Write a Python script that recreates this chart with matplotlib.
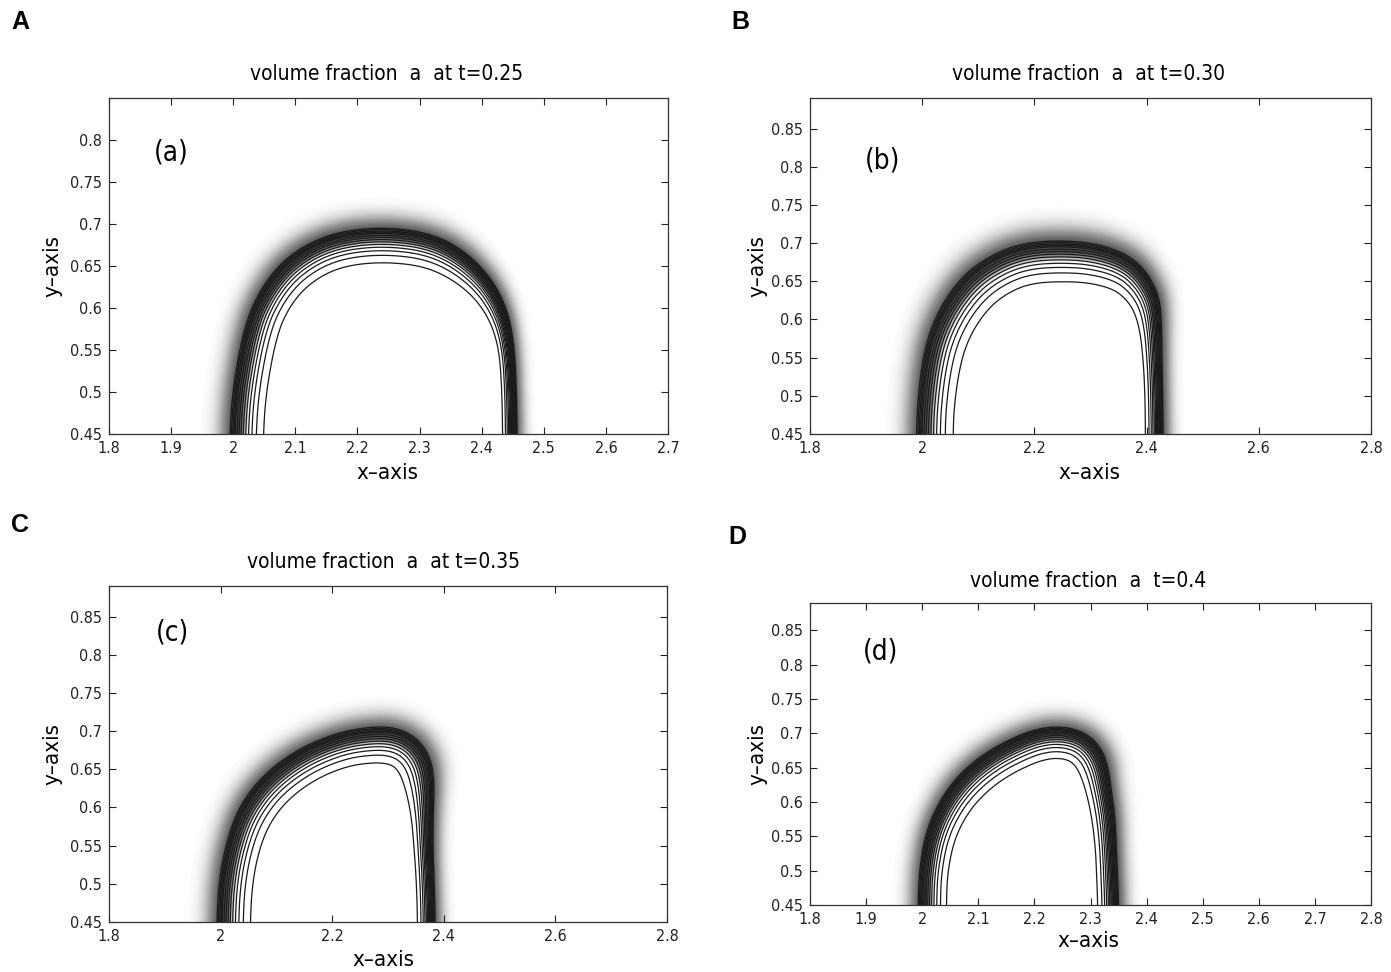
import numpy as np
import matplotlib
matplotlib.use("Agg")
import matplotlib.pyplot as plt
from matplotlib.path import Path
from matplotlib.colors import LinearSegmentedColormap

plt.rcParams['font.family'] = ['DejaVu Sans']
plt.rcParams['font.stretch'] = 'condensed'

W, H = 1391, 972

# ---------------- data ----------------
titles = ["volume fraction  a  at t=0.25", "volume fraction  a  at t=0.30",
          "volume fraction  a  at t=0.35", "volume fraction  a  t=0.4"]
panel_letters = ["A", "B", "C", "D"]
sub_labels = ["(a)", "(b)", "(c)", "(d)"]
sub_label_pos = [(1.90, 0.785), (1.93, 0.808), (1.913, 0.829), (1.925, 0.819)]

xlims = [(1.8, 2.7), (1.8, 2.8), (1.8, 2.8), (1.8, 2.8)]
ylims = [(0.45, 0.8499), (0.45, 0.89), (0.45, 0.89), (0.45, 0.89)]
xticks_list = [[1.8, 1.9, 2.0, 2.1, 2.2, 2.3, 2.4, 2.5, 2.6, 2.7],
               [1.8, 2.0, 2.2, 2.4, 2.6, 2.8],
               [1.8, 2.0, 2.2, 2.4, 2.6, 2.8],
               [1.8, 1.9, 2.0, 2.1, 2.2, 2.3, 2.4, 2.5, 2.6, 2.7, 2.8]]
yticks_list = [[0.45, 0.5, 0.55, 0.6, 0.65, 0.7, 0.75, 0.8],
               [0.45, 0.5, 0.55, 0.6, 0.65, 0.7, 0.75, 0.8, 0.85],
               [0.45, 0.5, 0.55, 0.6, 0.65, 0.7, 0.75, 0.8, 0.85],
               [0.45, 0.5, 0.55, 0.6, 0.65, 0.7, 0.75, 0.8, 0.85]]

# innermost contour of each panel (x, y) and band width (px)
a_x = [2.048, 2.054, 2.071, 2.091, 2.118, 2.156, 2.199, 2.252, 2.306, 2.349, 2.387, 2.413, 2.427, 2.432, 2.434]
a_y = [0.450, 0.506, 0.570, 0.602, 0.626, 0.644, 0.6525, 0.6544, 0.6496, 0.6358, 0.6138, 0.586, 0.554, 0.514, 0.450]
a_w = [30, 30, 30, 30, 31, 31, 31, 31, 30, 27, 22, 17, 13, 12, 12]

b_x = [2.055, 2.057, 2.065, 2.077, 2.098, 2.127, 2.163, 2.199, 2.246, 2.294, 2.336, 2.359, 2.377, 2.388, 2.394, 2.397, 2.398]
b_y = [0.450, 0.486, 0.530, 0.5645, 0.5952, 0.6214, 0.6389, 0.6476, 0.6497, 0.6484, 0.6411, 0.630, 0.6126, 0.5864, 0.547, 0.5034, 0.450]
b_w = [33, 33, 34, 35, 36, 37, 37, 37, 37, 36, 34, 30, 25, 19, 16, 15, 15]

c_x = [2.053, 2.057, 2.069, 2.088, 2.120, 2.168, 2.224, 2.272, 2.304, 2.320, 2.332, 2.342, 2.347, 2.351, 2.353]
c_y = [0.450, 0.501, 0.5447, 0.5796, 0.6101, 0.6363, 0.6537, 0.6589, 0.6572, 0.6472, 0.6232, 0.5883, 0.5447, 0.501, 0.450]
c_w = [30, 30, 30, 31, 31, 31, 31, 32, 33, 31, 26, 19, 16, 15, 15]

d_x = [2.043, 2.045, 2.057, 2.081, 2.112, 2.151, 2.199, 2.230, 2.254, 2.269, 2.281, 2.293, 2.303, 2.309, 2.311, 2.313]
d_y = [0.450, 0.4967, 0.5453, 0.5841, 0.6133, 0.6376, 0.657, 0.6639, 0.6629, 0.657, 0.6425, 0.6133, 0.5744, 0.5307, 0.4918, 0.450]
d_w = [25, 25, 26, 27, 28, 28, 28, 28, 28, 28, 26, 22, 20, 18, 18, 18]

boundaries = [(a_x, a_y, a_w), (b_x, b_y, b_w), (c_x, c_y, c_w), (d_x, d_y, d_w)]

line_levels = [0.30, 0.35, 0.40, 0.45, 0.50, 0.55, 0.60, 0.65, 0.70, 0.75, 0.80, 0.85, 0.90, 0.95]

# ---------------- layout (pixels: left, top, right, bottom) ----------------
axes_px = [(109, 98, 668, 434), (810, 98, 1371, 434),
           (109, 586, 667, 922), (810, 603, 1371, 905)]
letter_px = [(20, 22), (740, 22), (20, 525), (737, 537)]
title_px = [(387, 74), (1089, 74), (383, 562), (1088, 581)]
xlabel_px = [(387, 473), (1089, 473), (383, 960), (1088, 941)]
ylabel_px = [(52, 266), (757, 266), (52, 754), (757, 754)]


def fpos(x, y):
    return x / W, 1 - y / H


def chaikin(px, py, pw, n_iter=3):
    """Corner-cutting smoothing of the outline (endpoints kept)."""
    P = np.column_stack([px, py, pw]).astype(float)
    for _ in range(n_iter):
        Q = 0.75 * P[:-1] + 0.25 * P[1:]
        R = 0.25 * P[:-1] + 0.75 * P[1:]
        mid = np.empty((2 * len(Q), 3))
        mid[0::2] = Q
        mid[1::2] = R
        P = np.vstack([P[:1], mid, P[-1:]])
    return P[:, 0], P[:, 1], P[:, 2]


def volume_fraction(xl, yl, wpx, hpx, bx, by, bw, nx=800, ny=520):
    sx = wpx / (xl[1] - xl[0])
    sy = hpx / (yl[1] - yl[0])
    xs = np.linspace(xl[0], xl[1], nx)
    ys = np.linspace(yl[0], yl[1], ny)
    XX, YY = np.meshgrid(xs, ys)
    PX = (XX - xl[0]) * sx
    PY = (YY - yl[0]) * sy
    ext_y = yl[0] - 0.1
    vx = np.array([bx[0]] + list(bx) + [bx[-1]])
    vy = np.array([ext_y] + list(by) + [ext_y])
    vw = np.array([bw[0]] + list(bw) + [bw[-1]], dtype=float)
    qx, qy, qw = chaikin((vx - xl[0]) * sx, (vy - yl[0]) * sy, vw)
    dmin = np.full(PX.shape, np.inf)
    wmin = np.ones(PX.shape)
    for i in range(len(qx) - 1):
        ax_, ay_ = qx[i], qy[i]
        dx, dy = qx[i + 1] - ax_, qy[i + 1] - ay_
        L2 = dx * dx + dy * dy
        if L2 == 0:
            continue
        t = np.clip(((PX - ax_) * dx + (PY - ay_) * dy) / L2, 0, 1)
        dist = np.hypot(PX - (ax_ + t * dx), PY - (ay_ + t * dy))
        wv = qw[i] + t * (qw[i + 1] - qw[i])
        m = dist < dmin
        dmin[m] = dist[m]
        wmin[m] = wv[m]
    poly = Path(np.column_stack([qx, qy]))
    inside = poly.contains_points(np.column_stack([PX.ravel(), PY.ravel()])).reshape(PX.shape)
    d = np.where(inside, -dmin, dmin)
    c = 0.95
    e_in = c / np.log(19.0)
    z_in = (d / wmin - c) / e_in
    z_out = (d - c * wmin) / (2.3 + 0.12 * wmin)
    z = np.clip(np.where(d < c * wmin, z_in, z_out), -50, 50)
    F = 1 / (1 + np.exp(z))
    return xs, ys, F


vmax = 0.8
gray_nodes = [(0.0, 1.0), (0.005, 0.97), (0.02, 0.88), (0.05, 0.75), (0.1, 0.60),
              (0.2, 0.45), (0.3, 0.36), (0.4, 0.31), (0.5, 0.28), (0.6, 0.30),
              (0.68, 0.50), (0.75, 0.85), (0.8, 1.0)]
cmap = LinearSegmentedColormap.from_list(
    "fade", [(f / vmax, (g, g, g)) for f, g in gray_nodes])
cmap.set_over("white")

fig = plt.figure(figsize=(W / 100, H / 100), dpi=100)

for k in range(4):
    l, t, r, b = axes_px[k]
    ax = fig.add_axes([l / W, 1 - b / H, (r - l) / W, (b - t) / H])
    xl, yl = xlims[k], ylims[k]
    bx, by, bw = boundaries[k]
    xs, ys, F = volume_fraction(xl, yl, r - l, b - t, bx, by, bw)
    ax.imshow(F, extent=[xl[0], xl[1], yl[0], yl[1]], origin="lower", cmap=cmap,
              vmin=0, vmax=vmax, interpolation="bilinear", aspect="auto", zorder=1)
    ax.contour(xs, ys, F, levels=line_levels, colors="#1a1a1a", linewidths=0.9, zorder=2)
    ax.set_xlim(*xl)
    ax.set_ylim(*yl)
    ax.set_xticks(xticks_list[k])
    ax.set_xticklabels([f"{v:g}" for v in xticks_list[k]])
    ax.set_yticks(yticks_list[k])
    ax.set_yticklabels([f"{v:g}" for v in yticks_list[k]])
    ax.tick_params(direction="in", top=True, right=True, length=5, width=0.8,
                   labelsize=11.5, pad=5, colors="#222222")
    for s in ax.spines.values():
        s.set_linewidth(0.9)
        s.set_color("#333333")
    ax.text(sub_label_pos[k][0], sub_label_pos[k][1], sub_labels[k], fontsize=20,
            ha="center", va="center", zorder=3)
    fig.text(*fpos(*letter_px[k]), panel_letters[k], fontsize=18, fontweight="bold",
             family="Liberation Sans", fontstretch="normal", ha="center", va="center")
    fig.text(*fpos(*title_px[k]), titles[k], fontsize=15, ha="center", va="center")
    fig.text(*fpos(*xlabel_px[k]), "x\u2013axis", fontsize=16, ha="center", va="center")
    fig.text(*fpos(*ylabel_px[k]), "y\u2013axis", fontsize=16, ha="center", va="center",
             rotation=90)

fig.savefig("out.png", dpi=100)
